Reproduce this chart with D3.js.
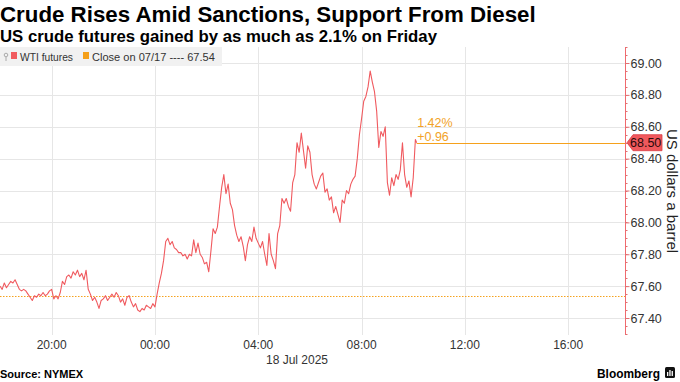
<!DOCTYPE html>
<html><head><meta charset="utf-8">
<script src="https://cdn.jsdelivr.net/npm/d3@7"></script>
<style>body{margin:0;background:#fff}svg{display:block}</style>
</head><body><svg id="c" width="680" height="382"></svg>
<script>
const titleText = "Crude Rises Amid Sanctions, Support From Diesel";
const subtitleText = "US crude futures gained by as much as 2.1% on Friday";
const seriesName = "WTI futures";
const closeLegend = "Close on 07/17 ---- 67.54";
const prevClose = 67.54;
const lastPrice = 68.50;
const changePct = "1.42%";
const changeAbs = "+0.96";
const startTime = new Date(2025, 6, 17, 18, 0);
const stepMinutes = 5;
const wtiValues = [
  67.60, 67.58, 67.62, 67.59, 67.61, 67.63, 67.62, 67.64, 67.61, 67.58, 67.57, 67.58,
  67.57, 67.55, 67.53, 67.51, 67.54, 67.53, 67.55, 67.54, 67.56, 67.54, 67.55, 67.57,
  67.58, 67.52, 67.54, 67.52, 67.56, 67.63, 67.61, 67.66, 67.67, 67.65, 67.69, 67.67,
  67.70, 67.66, 67.68, 67.64, 67.70, 67.58, 67.55, 67.51, 67.53, 67.50, 67.46, 67.51,
  67.52, 67.54, 67.51, 67.53, 67.55, 67.53, 67.56, 67.54, 67.50, 67.52, 67.48, 67.53,
  67.54, 67.50, 67.47, 67.49, 67.45, 67.44, 67.46, 67.45, 67.48, 67.47, 67.46, 67.49,
  67.47, 67.55, 67.62, 67.68, 67.76, 67.88, 67.90, 67.86, 67.88, 67.84, 67.83, 67.81,
  67.81, 67.79, 67.80, 67.77, 67.80, 67.79, 67.89, 67.81, 67.87, 67.80, 67.78, 67.74,
  67.75, 67.69, 67.82, 67.96, 67.93, 67.97, 68.10, 68.22, 68.30, 68.18, 68.24, 68.12,
  68.08, 67.98, 67.92, 67.88, 67.91, 67.85, 67.76, 67.86, 67.91, 67.88, 67.97, 67.90,
  67.87, 67.84, 67.88, 67.80, 67.73, 67.93, 67.80, 67.76, 67.71, 67.93, 67.98, 68.15,
  68.12, 68.15, 68.10, 68.07, 68.25, 68.30, 68.50, 68.44, 68.56, 68.45, 68.34, 68.48,
  68.44, 68.30, 68.24, 68.21, 68.25, 68.29, 68.31, 68.19, 68.21, 68.14, 68.16, 68.06,
  68.10, 68.05, 68.00, 68.14, 68.12, 68.20, 68.18, 68.24, 68.27, 68.29, 68.40, 68.55,
  68.65, 68.76, 68.79, 68.85, 68.95, 68.88, 68.82, 68.70, 68.47, 68.57, 68.54, 68.60,
  68.25, 68.17, 68.28, 68.23, 68.30, 68.27, 68.33, 68.50, 68.30, 68.22, 68.26, 68.16,
  68.28, 68.52
];
const finalTime = new Date(2025, 6, 18, 10, 8);
const finalValue = 68.50;
const yTicks = [67.4, 67.6, 67.8, 68.0, 68.2, 68.4, 68.6, 68.8, 69.0];
const xTickTimes = [new Date(2025,6,17,20), new Date(2025,6,18,0), new Date(2025,6,18,4),
                    new Date(2025,6,18,8), new Date(2025,6,18,12), new Date(2025,6,18,16)];
const xTickLabels = ["20:00", "00:00", "04:00", "08:00", "12:00", "16:00"];
const dateLabel = "18 Jul 2025";
const yAxisTitle = "US dollars a barrel";
const sourceText = "Source: NYMEX";
const brandText = "Bloomberg";

const series = wtiValues.map((v, i) => ({t: new Date(startTime.getTime() + i * stepMinutes * 60000), v}));
series.push({t: finalTime, v: finalValue});

const svg = d3.select("#c");
const FONT = "'Liberation Sans', Arial, sans-serif";
const plotL = 0, plotR = 625, plotT = 47, plotB = 335;

const x = d3.scaleTime().domain([new Date(2025,6,17,18,0), new Date(2025,6,18,18,12)]).range([plotL, plotR]);
const y = d3.scaleLinear().domain([67.2934, 69.1004]).range([plotB, plotT]);

function fit(sel, target) {
  const len = sel.node().getComputedTextLength();
  const fs = parseFloat(sel.attr("font-size"));
  sel.attr("font-size", (fs * target / len).toFixed(2));
  return sel;
}

// Title & subtitle
fit(svg.append("text").attr("x", 0).attr("y", 21.5).attr("font-family", FONT).attr("font-weight", "bold")
  .attr("font-size", 20).attr("fill", "#000").text(titleText), 536);
fit(svg.append("text").attr("x", 0).attr("y", 41.5).attr("font-family", FONT).attr("font-weight", "bold")
  .attr("font-size", 15).attr("fill", "#000").text(subtitleText), 437);

// Gridlines
const grid = svg.append("g");
grid.selectAll("line.h").data(yTicks).join("line").attr("class", "h")
  .attr("x1", plotL).attr("x2", plotR).attr("y1", d => Math.round(y(d)) + 0.5).attr("y2", d => Math.round(y(d)) + 0.5)
  .attr("stroke", "#e6e6e6").attr("stroke-width", 1);
grid.selectAll("line.v").data(xTickTimes).join("line").attr("class", "v")
  .attr("x1", d => Math.round(x(d)) + 0.5).attr("x2", d => Math.round(x(d)) + 0.5).attr("y1", plotT).attr("y2", plotB)
  .attr("stroke", "#e6e6e6").attr("stroke-width", 1);

// Legend
const lg = svg.append("g");
lg.append("rect").attr("x", 0).attr("y", 47).attr("width", 222).attr("height", 19).attr("fill", "#f1f1f1");
lg.append("circle").attr("cx", 6).attr("cy", 55).attr("r", 1.8).attr("fill", "none").attr("stroke", "#aaa").attr("stroke-width", 1);
lg.append("line").attr("x1", 6).attr("x2", 6).attr("y1", 57).attr("y2", 61).attr("stroke", "#aaa");
lg.append("rect").attr("x", 11).attr("y", 52).attr("width", 6).attr("height", 7).attr("fill", "#f15b5f");
fit(lg.append("text").attr("x", 20).attr("y", 61).attr("font-family", FONT).attr("font-size", 12).attr("fill", "#333").text(seriesName), 53);
lg.append("rect").attr("x", 83).attr("y", 52).attr("width", 6).attr("height", 7).attr("fill", "#f5a01a");
fit(lg.append("text").attr("x", 92).attr("y", 61).attr("font-family", FONT).attr("font-size", 12).attr("fill", "#333").text(closeLegend), 123);

// Previous close dotted line
svg.append("line").attr("x1", plotL).attr("x2", plotR).attr("y1", Math.round(y(prevClose)) + 0.5).attr("y2", Math.round(y(prevClose)) + 0.5)
  .attr("stroke", "#f5a21f").attr("stroke-width", 1).attr("stroke-dasharray", "1.5,1.5");

// Last price line
svg.append("line").attr("x1", x(finalTime)).attr("x2", plotR).attr("y1", Math.round(y(lastPrice)) + 0.5).attr("y2", Math.round(y(lastPrice)) + 0.5)
  .attr("stroke", "#f5a11c").attr("stroke-width", 1.2);

// Series line
svg.append("path").datum(series)
  .attr("d", d3.line().x(d => x(d.t)).y(d => y(d.v)))
  .attr("fill", "none").attr("stroke", "#f05a5f").attr("stroke-width", 1.1).attr("stroke-linejoin", "round");

// Change annotation
svg.append("text").attr("x", x(finalTime) + 0.5).attr("y", y(lastPrice) - 16).attr("font-family", FONT).attr("font-size", 12.5)
  .attr("fill", "#f2a227").text(changePct);
svg.append("text").attr("x", x(finalTime) + 0.5).attr("y", y(lastPrice) - 2).attr("font-family", FONT).attr("font-size", 12.5)
  .attr("fill", "#f2a227").text(changeAbs);

// Right axis
const ax = svg.append("g").attr("transform", `translate(${plotR + 0.5},0)`);
ax.append("line").attr("x1", 0).attr("x2", 0).attr("y1", plotT).attr("y2", plotB).attr("stroke", "#f06a6e").attr("stroke-width", 1);
const minor = d3.range(67.30, 69.101, 0.05);
ax.selectAll("line.mn").data(minor).join("line").attr("class", "mn")
  .attr("x1", 0).attr("x2", 2).attr("y1", d => Math.round(y(d)) + 0.5).attr("y2", d => Math.round(y(d)) + 0.5).attr("stroke", "#e07074");
const yAxis = d3.axisRight(y).tickValues(yTicks).tickFormat(d3.format(".2f")).tickSize(4).tickPadding(1);
const ga = ax.append("g").call(yAxis);
ga.select(".domain").remove();
ga.selectAll(".tick line").attr("stroke", "#e07074");
ga.selectAll(".tick text").attr("font-family", FONT).attr("font-size", 12.5).attr("fill", "#333");

// Last price tag
const ly = y(lastPrice);
svg.append("path").attr("d", `M${plotR + 2},${ly} L${plotR + 8},${ly - 8} L${plotR + 37},${ly - 8} L${plotR + 37},${ly + 8} L${plotR + 8},${ly + 8} Z`)
  .attr("fill", "#f0585c").attr("stroke", "#d93c42").attr("stroke-width", 0.8);
svg.append("text").attr("x", plotR + 5).attr("y", ly + 4.5).attr("font-family", FONT).attr("font-size", 12.5)
  .attr("fill", "#2a0a0a").text(d3.format(".2f")(lastPrice));

// Y axis title
svg.append("text").attr("transform", `translate(667,191) rotate(90)`).attr("text-anchor", "middle")
  .attr("font-family", FONT).attr("font-size", 15).attr("fill", "#222").text(yAxisTitle);

// X axis labels
const xa = svg.append("g");
xa.selectAll("text.xl").data(xTickTimes).join("text").attr("class", "xl")
  .attr("x", d => x(d)).attr("y", 349).attr("text-anchor", "middle")
  .attr("font-family", FONT).attr("font-size", 12).attr("fill", "#333").text((d, i) => xTickLabels[i]);
xa.append("text").attr("x", 297).attr("y", 364).attr("text-anchor", "middle")
  .attr("font-family", FONT).attr("font-size", 12).attr("fill", "#333").text(dateLabel);

// Footer
svg.append("text").attr("x", 0).attr("y", 378).attr("font-family", FONT).attr("font-weight", "bold")
  .attr("font-size", 11).attr("fill", "#000").text(sourceText);
fit(svg.append("text").attr("x", 597).attr("y", 378).attr("font-family", FONT).attr("font-weight", "bold")
  .attr("font-size", 13).attr("fill", "#000").text(brandText), 63);
const logo = svg.append("g").attr("transform", "translate(665,367)");
logo.append("rect").attr("width", 10).attr("height", 11).attr("rx", 1.5).attr("fill", "#111");
[[2,5,1.3,4],[4.3,3,1.3,6],[6.6,4,1.3,5]].forEach(b =>
  logo.append("rect").attr("x", b[0]).attr("y", b[1]).attr("width", b[2]).attr("height", b[3]).attr("fill", "#fff"));
</script></body></html>
